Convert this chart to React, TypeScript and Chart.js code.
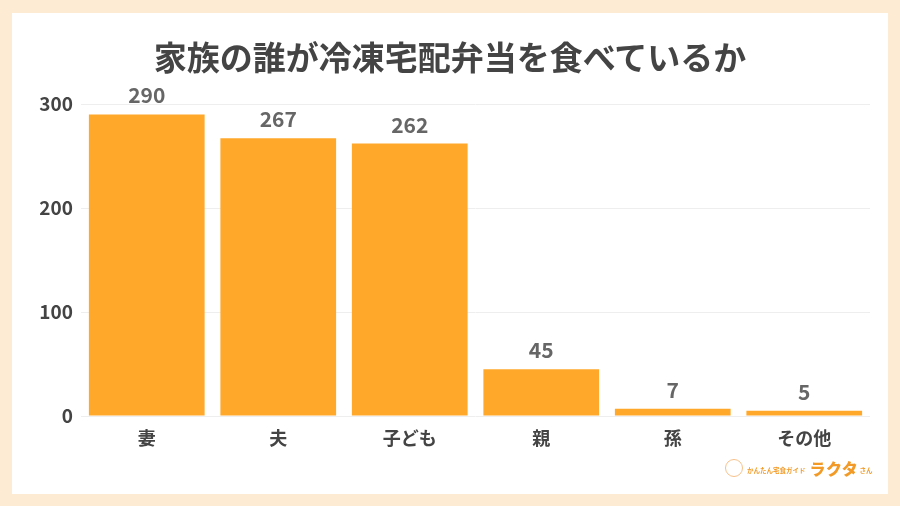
import { useEffect, useRef } from 'react';
import { Chart, registerables } from 'chart.js';

Chart.register(...registerables);

const categories = ['妻', '夫', '子ども', '親', '孫', 'その他'];
const counts = [290, 267, 262, 45, 7, 5];
const yTicks = [0, 100, 200, 300];

const FONT = '"Noto Sans CJK JP", "Noto Sans", sans-serif';

const valueLabels = {
  id: 'valueLabels',
  afterDatasetsDraw(chart: Chart) {
    const ctx = chart.ctx;
    const meta = chart.getDatasetMeta(0);
    ctx.save();
    ctx.font = `bold 21px ${FONT}`;
    ctx.fillStyle = '#666666';
    ctx.textAlign = 'center';
    ctx.textBaseline = 'middle';
    meta.data.forEach((bar: any, i: number) => {
      ctx.fillText(String(counts[i]), bar.x, bar.y - 19);
    });
    ctx.restore();
  }
};

export default function App() {
  const canvasRef = useRef<HTMLCanvasElement>(null);

  useEffect(() => {
    document.body.style.margin = '0';
    if (!canvasRef.current) return;

    const chart = new Chart(canvasRef.current, {
      type: 'bar',
      data: {
        labels: categories,
        datasets: [{
          data: counts,
          backgroundColor: '#FFA82A',
          borderWidth: 0,
          barPercentage: 0.88,
          categoryPercentage: 1
        }]
      },
      options: {
        responsive: false,
        animation: false,
        layout: { padding: { top: 91, right: 18, bottom: 0, left: 0 } },
        plugins: {
          legend: { display: false },
          title: { display: false },
          tooltip: { enabled: false }
        },
        scales: {
          x: {
            grid: { display: false },
            border: { display: false },
            ticks: {
              color: '#444444',
              font: { family: FONT, size: 18, weight: 'bold' },
              padding: 3
            },
            afterFit: (scale: any) => { scale.height = 78; }
          },
          y: {
            min: 0,
            max: 300,
            afterBuildTicks: (scale: any) => {
              scale.ticks = yTicks.map(v => ({ value: v }));
            },
            grid: { color: '#EEEEEE', drawTicks: false },
            border: { display: false },
            ticks: {
              color: '#444444',
              font: { family: FONT, size: 19, weight: 'bold' },
              padding: 8
            },
            afterFit: (scale: any) => { scale.width = 69; }
          }
        }
      },
      plugins: [valueLabels]
    });

    return () => chart.destroy();
  }, []);

  return (
    <div style={{
      position: 'fixed', left: 0, top: 0, width: 900, height: 506,
      backgroundColor: '#FDEBD3', fontFamily: FONT
    }}>
      <div style={{
        position: 'absolute', left: 12, top: 13, width: 876, height: 481,
        backgroundColor: '#FFFFFF'
      }}>
        <canvas ref={canvasRef} width={876} height={481} />
        <div style={{
          position: 'absolute', left: 0, top: 23, width: 876, textAlign: 'center',
          fontSize: 33, fontWeight: 'bold', color: '#444444', lineHeight: '40px'
        }}>
          家族の誰が冷凍宅配弁当を食べているか
        </div>
        <div style={{
          position: 'absolute', left: 713, top: 443, height: 22,
          display: 'flex', alignItems: 'flex-end', color: '#F29A25', whiteSpace: 'nowrap'
        }}>
          <span style={{
            display: 'inline-block', width: 16, height: 16, borderRadius: '50%',
            border: '1.5px solid #F7C08A', marginRight: 4, marginBottom: 1
          }} />
          <span style={{ fontSize: 6.5, fontWeight: 'bold', marginRight: 4, marginBottom: 3 }}>かんたん宅食ガイド</span>
          <span style={{ fontSize: 16, fontWeight: 900, lineHeight: '20px', letterSpacing: 0.5 }}>ラクタ</span>
          <span style={{ fontSize: 6.5, fontWeight: 'bold', marginLeft: 1, marginBottom: 3 }}>さん</span>
        </div>
      </div>
    </div>
  );
}
